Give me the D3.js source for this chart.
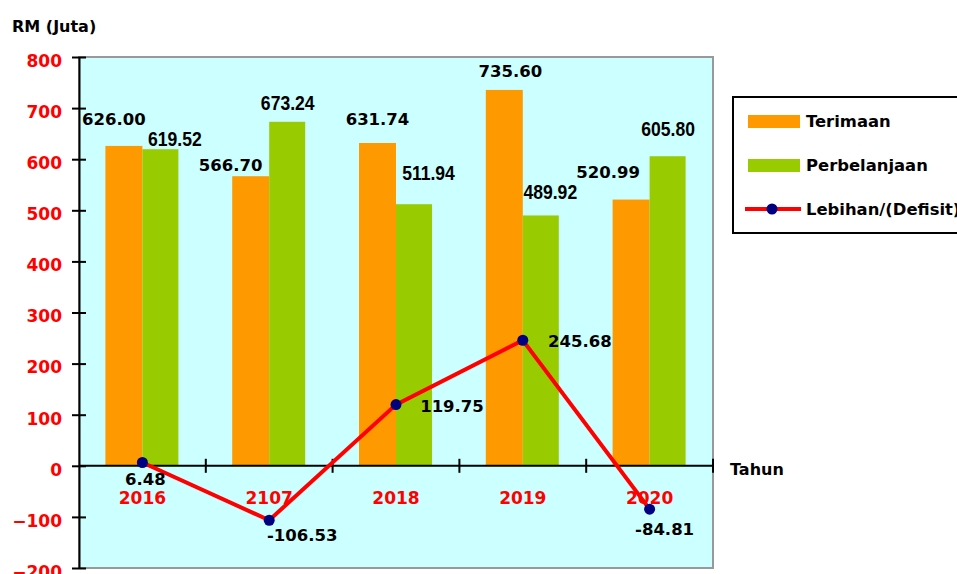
<!DOCTYPE html>
<html>
<head>
<meta charset="utf-8">
<script src="https://cdn.jsdelivr.net/npm/d3@7"></script>
<style>
  body { margin: 0; background: #fff; }
  svg text { font-family: "DejaVu Sans", Verdana, sans-serif; font-weight: bold; }
  svg text.narrow { font-family: "Liberation Sans", Arial, sans-serif; }
</style>
</head>
<body>
<div id="chart"></div>
<script>
// data
var years = ["2016", "2107", "2018", "2019", "2020"];
var terimaan = [626.00, 566.70, 631.74, 735.60, 520.99];
var perbelanjaan = [619.52, 673.24, 511.94, 489.92, 605.80];
var lebihan = [6.48, -106.53, 119.75, 245.68, -84.81];
var yTicks = [-200, -100, 0, 100, 200, 300, 400, 500, 600, 700, 800];

// label nudges (px) so value labels sit like the original
var terimaanNudge = [[-10, -21], [-20, -5], [0, -18], [6, -13], [-23, -22]];
var perbelanjaanNudge = [[14, -3], [0, -12], [14, -24], [9, -16], [0, -20]];
var lebihanNudge = [[3, 23], [33, 21], [56, 7], [57, 7], [15, 26]];

var width = 957, height = 574;
var plot = {left: 79, right: 713, top: 57, bottom: 568};

var svg = d3.select("#chart").append("svg")
    .attr("width", width)
    .attr("height", height);

var x = d3.scaleBand().domain(years).range([plot.left, plot.right]).padding(0);
var y = d3.scaleLinear().domain([-200, 800]).range([plot.bottom, plot.top]);

var barW = 37;

// plot background + grey frame
svg.append("rect")
    .attr("x", plot.left).attr("y", plot.top)
    .attr("width", plot.right - plot.left)
    .attr("height", plot.bottom - plot.top)
    .attr("fill", "#CCFFFF")
    .attr("stroke", "#999999")
    .attr("stroke-width", 2);

// bars
svg.selectAll(".bar-t")
    .data(terimaan)
  .enter().append("rect")
    .attr("class", "bar-t")
    .attr("x", (d, i) => x(years[i]) + x.bandwidth() / 2 - barW)
    .attr("y", d => y(d))
    .attr("width", barW)
    .attr("height", d => y(0) - y(d))
    .attr("fill", "#FF9900");

svg.selectAll(".bar-p")
    .data(perbelanjaan)
  .enter().append("rect")
    .attr("class", "bar-p")
    .attr("x", (d, i) => x(years[i]) + x.bandwidth() / 2)
    .attr("y", d => y(d))
    .attr("width", barW - 1)
    .attr("height", d => y(0) - y(d))
    .attr("fill", "#99CC00");

// y axis
var yAxis = svg.append("g")
    .attr("transform", "translate(" + plot.left + ",0)")
    .call(d3.axisLeft(y).tickValues(yTicks).tickSize(7).tickSizeOuter(0));
yAxis.select(".domain").attr("stroke", "#000").attr("stroke-width", 2);
yAxis.selectAll(".tick line").attr("x1", 7).attr("x2", -7).attr("stroke", "#000").attr("stroke-width", 2);
yAxis.selectAll(".tick text")
    .attr("x", -17)
    .attr("dy", "0.55em")
    .attr("fill", "#FF0000")
    .style("font-size", "17px");

// x axis along zero
var bounds = years.map(d => x(d)).concat([plot.right]);
svg.append("line")
    .attr("x1", plot.left).attr("x2", plot.right)
    .attr("y1", y(0)).attr("y2", y(0))
    .attr("stroke", "#000").attr("stroke-width", 2);
svg.selectAll(".xtick")
    .data(bounds.slice(1))
  .enter().append("line")
    .attr("class", "xtick")
    .attr("x1", d => d).attr("x2", d => d)
    .attr("y1", y(0) - 7).attr("y2", y(0) + 7)
    .attr("stroke", "#000").attr("stroke-width", 2);

svg.selectAll(".xlabel")
    .data(years)
  .enter().append("text")
    .attr("class", "xlabel")
    .attr("x", d => x(d) + x.bandwidth() / 2)
    .attr("y", y(0) + 38)
    .attr("text-anchor", "middle")
    .attr("fill", "#FF0000")
    .style("font-size", "17px")
    .text(d => d);

// bar value labels
svg.selectAll(".lab-t")
    .data(terimaan)
  .enter().append("text")
    .attr("class", "lab-t")
    .attr("x", (d, i) => x(years[i]) + x.bandwidth() / 2 - barW / 2 + terimaanNudge[i][0])
    .attr("y", (d, i) => y(d) + terimaanNudge[i][1])
    .attr("text-anchor", "middle")
    .style("font-size", "16.5px")
    .text(d => d.toFixed(2));

// green labels use a squeezed Arial-like face (Arial Narrow look)
svg.selectAll(".lab-p")
    .data(perbelanjaan)
  .enter().append("text")
    .attr("class", "lab-p narrow")
    .attr("transform", (d, i) => "translate(" +
        (x(years[i]) + x.bandwidth() / 2 + barW / 2 + perbelanjaanNudge[i][0]) + "," +
        (y(d) + perbelanjaanNudge[i][1]) + ") scale(0.9,1)")
    .attr("text-anchor", "middle")
    .style("font-size", "19.5px")
    .text(d => d.toFixed(2));

// surplus / deficit line
var line = d3.line()
    .x((d, i) => x(years[i]) + x.bandwidth() / 2)
    .y(d => y(d));

svg.append("path")
    .datum(lebihan)
    .attr("d", line)
    .attr("fill", "none")
    .attr("stroke", "#FF0000")
    .attr("stroke-width", 4);

svg.selectAll(".dot")
    .data(lebihan)
  .enter().append("circle")
    .attr("class", "dot")
    .attr("cx", (d, i) => x(years[i]) + x.bandwidth() / 2)
    .attr("cy", d => y(d))
    .attr("r", 5.5)
    .attr("fill", "#000080");

svg.selectAll(".lab-l")
    .data(lebihan)
  .enter().append("text")
    .attr("class", "lab-l")
    .attr("x", (d, i) => x(years[i]) + x.bandwidth() / 2 + lebihanNudge[i][0])
    .attr("y", (d, i) => y(d) + lebihanNudge[i][1])
    .attr("text-anchor", "middle")
    .style("font-size", "16.5px")
    .text(d => d.toFixed(2));

// axis titles
svg.append("text")
    .attr("x", 12).attr("y", 32)
    .style("font-size", "16px")
    .text("RM (Juta)");

svg.append("text")
    .attr("x", 730).attr("y", y(0) + 9)
    .style("font-size", "16px")
    .text("Tahun");

// legend
var legend = svg.append("g");
legend.append("rect")
    .attr("x", 733).attr("y", 97)
    .attr("width", 240).attr("height", 136)
    .attr("fill", "#fff")
    .attr("stroke", "#000")
    .attr("stroke-width", 2);

legend.append("rect").attr("x", 748).attr("y", 115).attr("width", 52).attr("height", 13).attr("fill", "#FF9900");
legend.append("rect").attr("x", 748).attr("y", 159).attr("width", 52).attr("height", 13).attr("fill", "#99CC00");
legend.append("line").attr("x1", 745).attr("x2", 801).attr("y1", 209).attr("y2", 209)
    .attr("stroke", "#FF0000").attr("stroke-width", 4);
legend.append("circle").attr("cx", 772).attr("cy", 209).attr("r", 5.5).attr("fill", "#000080");

var legendNames = ["Terimaan", "Perbelanjaan", "Lebihan/(Defisit)"];
legend.selectAll(".ltext")
    .data(legendNames)
  .enter().append("text")
    .attr("class", "ltext")
    .attr("x", 806)
    .attr("y", (d, i) => 127 + i * 44)
    .style("font-size", "16.4px")
    .text(d => d);
</script>
</body>
</html>
